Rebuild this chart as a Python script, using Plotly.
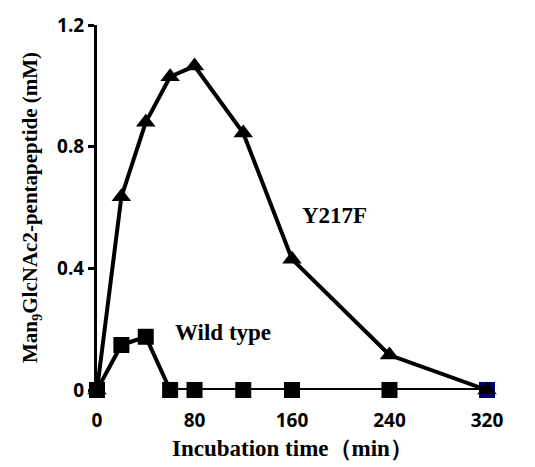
import plotly.graph_objects as go

time_min = [0, 20, 40, 60, 80, 120, 160, 240, 320]
y217f = [0, 0.635, 0.88, 1.03, 1.065, 0.845, 0.43, 0.115, 0]
wild_type = [0, 0.148, 0.175, 0, 0, 0, 0, 0, 0]
x_ticks = [0, 80, 160, 240, 320]
y_ticks = [0, 0.4, 0.8, 1.2]
y_tick_labels = ["0", "0.4", "0.8", "1.2"]

wt_colors = ["black"] * (len(time_min) - 1) + ["#00007a"]

fig = go.Figure()
fig.add_trace(go.Scatter(
    x=time_min, y=wild_type, mode="lines+markers", name="Wild type",
    line=dict(color="black", width=4),
    marker=dict(symbol="square", size=16, color=wt_colors, line=dict(width=0)),
    cliponaxis=False,
))
fig.add_trace(go.Scatter(
    x=time_min, y=y217f, mode="lines+markers", name="Y217F",
    line=dict(color="black", width=4),
    marker=dict(symbol="triangle-up", size=17, color="black", line=dict(width=0)),
    cliponaxis=False,
))

serif = "Liberation Serif, Times New Roman, serif"
sans = "Open Sans, Liberation Sans, Arial, sans-serif"

fig.add_annotation(x=195, y=0.575, text="<b>Y217F</b>", showarrow=False,
                   font=dict(family=serif, size=23, color="black"))
fig.add_annotation(x=103, y=0.19, text="<b>Wild type</b>", showarrow=False,
                   font=dict(family=serif, size=23, color="black"))
# x-axis title
fig.add_annotation(x=0.5, y=0, xref="paper", yref="paper", yanchor="middle",
                   yshift=-58, showarrow=False,
                   text="<b>Incubation time（min）</b>",
                   font=dict(family=serif, size=23, color="black"))

fig.update_layout(
    width=535, height=467,
    margin=dict(l=89, r=56, t=17, b=85),
    paper_bgcolor="white", plot_bgcolor="white",
    showlegend=False,
    xaxis=dict(
        range=[0, 320], tickvals=x_ticks, showgrid=False, zeroline=False,
        showline=False, ticks="outside", ticklen=13, tickcolor="rgba(0,0,0,0)",
        automargin=False,
        tickfont=dict(family=sans, size=19, color="black", weight="bold"),
    ),
    yaxis=dict(
        range=[0, 1.2], tickvals=y_ticks, ticktext=y_tick_labels,
        showgrid=False, zeroline=False, automargin=False,
        showline=True, linecolor="black", linewidth=3,
        ticks="outside", ticklen=6, tickwidth=3, tickcolor="black",
        tickfont=dict(family=sans, size=19, color="black", weight="bold"),
        title=dict(text="<b>Man<sub>9</sub>GlcNAc2-pentapeptide (mM)</b>", standoff=14,
                   font=dict(family=serif, size=21, color="black")),
    ),
)

fig.write_html("out.html")
